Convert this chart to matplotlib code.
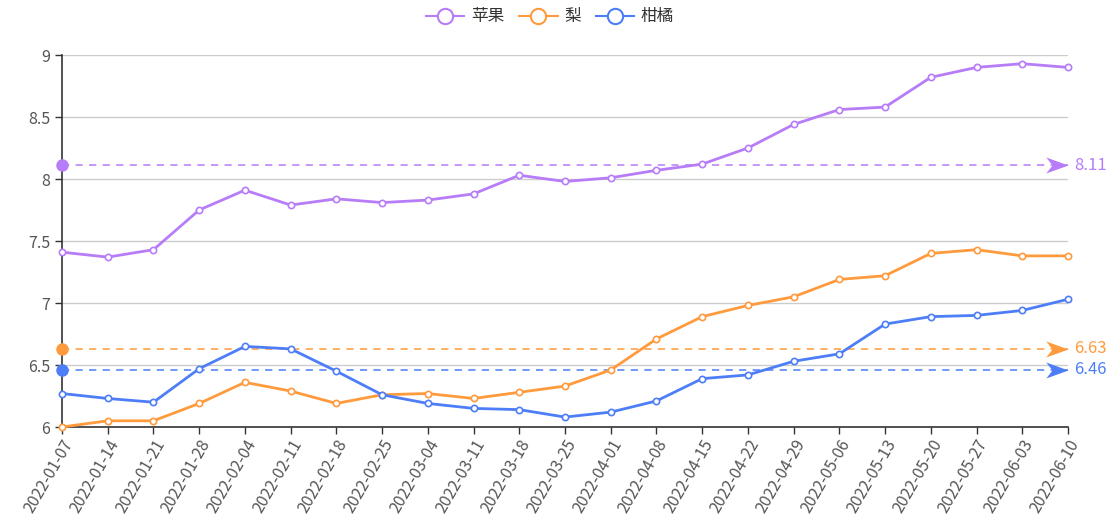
import matplotlib
matplotlib.use("Agg")
import matplotlib.pyplot as plt
from matplotlib.lines import Line2D
from matplotlib.path import Path

plt.rcParams['font.family'] = ['Noto Sans CJK SC', 'DejaVu Sans']

dates = ["2022-01-07", "2022-01-14", "2022-01-21", "2022-01-28", "2022-02-04", "2022-02-11",
         "2022-02-18", "2022-02-25", "2022-03-04", "2022-03-11", "2022-03-18", "2022-03-25",
         "2022-04-01", "2022-04-08", "2022-04-15", "2022-04-22", "2022-04-29", "2022-05-06",
         "2022-05-13", "2022-05-20", "2022-05-27", "2022-06-03", "2022-06-10"]
apple = [7.41, 7.37, 7.43, 7.75, 7.91, 7.79, 7.84, 7.81, 7.83, 7.88, 8.03, 7.98,
         8.01, 8.07, 8.12, 8.25, 8.44, 8.56, 8.58, 8.82, 8.90, 8.93, 8.90]
pear = [6.00, 6.05, 6.05, 6.19, 6.36, 6.29, 6.19, 6.26, 6.27, 6.23, 6.28, 6.33,
        6.46, 6.71, 6.89, 6.98, 7.05, 7.19, 7.22, 7.40, 7.43, 7.38, 7.38]
citrus = [6.27, 6.23, 6.20, 6.47, 6.65, 6.63, 6.45, 6.26, 6.19, 6.15, 6.14, 6.08,
          6.12, 6.21, 6.39, 6.42, 6.53, 6.59, 6.83, 6.89, 6.90, 6.94, 7.03]
names = ["苹果", "梨", "柑橘"]
colors = ["#b77cf7", "#ff9a3d", "#4d7ef7"]
yticks = [6, 6.5, 7, 7.5, 8, 8.5, 9]

W, H = 1116, 519
fig = plt.figure(figsize=(W / 100, H / 100), dpi=100)
ax = fig.add_axes([62 / W, (H - 427) / H, (1068 - 62) / W, (427 - 55) / H])

arrow_marker = Path([(0, 0), (-1, 0.36), (-0.72, 0), (-1, -0.36), (0, 0)],
                    [Path.MOVETO, Path.LINETO, Path.LINETO, Path.LINETO, Path.CLOSEPOLY])

x = list(range(len(dates)))
handles = []
for vals, name, c in zip([apple, pear, citrus], names, colors):
    ax.plot(x, vals, color=c, lw=2, marker='o', ms=4.5, mfc='white', mec=c, mew=1.2,
            zorder=3, clip_on=False)
    avg = round(sum(vals) / len(vals), 2)
    ax.plot([x[0], x[-1]], [avg, avg], color=c, lw=1.3, ls=(0, (4, 3.5)), alpha=0.85,
            zorder=2, clip_on=False)
    ax.plot([x[0]], [avg], 'o', color=c, ms=8, zorder=4, clip_on=False)
    ax.plot([x[-1]], [avg], marker=arrow_marker, color=c, ms=32, mew=0, ls='none',
            zorder=4, clip_on=False)
    ax.annotate(f"{avg:.2f}", xy=(x[-1], avg), xytext=(4.5, 0), textcoords='offset points',
                color=c, fontsize=12, va='center', ha='left', annotation_clip=False)
    handles.append(Line2D([], [], color=c, lw=1.5, marker='o', ms=11, mfc='white',
                          mec=c, mew=1.5))

ax.set_xlim(x[0], x[-1])
ax.set_ylim(6, 9)
ax.set_yticks(yticks)
ax.set_yticklabels([f"{v:g}" for v in yticks])
ax.set_xticks(x)
ax.set_xticklabels(dates, rotation=60, ha='right', rotation_mode='anchor')
ax.tick_params(axis='both', colors='#333333', labelcolor='#555555', labelsize=11.5,
               length=5, width=1)
ax.tick_params(axis='x', pad=2)
ax.grid(axis='y', color='#cccccc', lw=1)
ax.set_axisbelow(True)
for s in ['top', 'right']:
    ax.spines[s].set_visible(False)
for s in ['left', 'bottom']:
    ax.spines[s].set_color('#333333')
    ax.spines[s].set_linewidth(1.2)

fig.legend(handles, names, loc='center', bbox_to_anchor=(550 / W, 1 - 17 / H), ncol=3,
           frameon=False, fontsize=12, handlelength=2.3, handletextpad=0.4,
           columnspacing=0.9, labelcolor='#333333')

fig.savefig("out.png", dpi=100)
